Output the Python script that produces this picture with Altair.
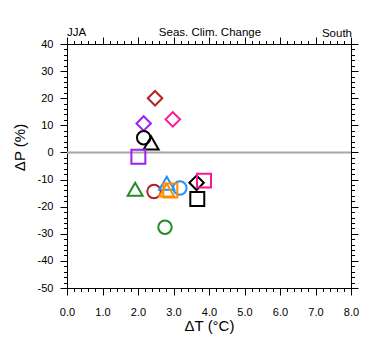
import altair as alt
import pandas as pd

# ---- data ----
dT = [2.48, 2.98, 2.16, 2.16, 2.37, 2.01, 1.92, 2.45, 2.81, 3.18, 2.81, 2.91, 3.65, 3.86, 3.67, 2.76]
dP = [20.0, 12.2, 10.7, 5.4, 3.5, -1.6, -13.6, -14.4, -11.4, -13.1, -13.9, -14.0, -11.2, -10.4, -17.2, -27.6]
shapes = ["diamond", "diamond", "diamond", "circle", "triangle-up", "square", "triangle-up", "circle",
          "triangle-up", "circle", "triangle-up", "square", "diamond", "square", "square", "circle"]
colors = ["#b22222", "#ff1493", "#a020f0", "#000000", "#000000", "#a020f0", "#228b22", "#b22222",
          "#1e90ff", "#1e90ff", "#ff8c00", "#ff8c00", "#000000", "#ff1493", "#000000", "#228b22"]

x_major = [0, 1, 2, 3, 4, 5, 6, 7, 8]
y_major = [-50, -40, -30, -20, -10, 0, 10, 20, 30, 40]
x_ticks = [round(i * 0.2, 1) for i in range(0, 41)]
y_ticks = list(range(-50, 41, 2))

title_left = "JJA"
title_center = "Seas. Clim. Change"
title_right = "South"

df = pd.DataFrame({"dT": dT, "dP": dP, "shape": shapes, "color": colors})
zero_df = pd.DataFrame({"v": [0]})

FONT = "Liberation Sans"
W, H = 284, 244

xscale = alt.Scale(domain=[0, 8], nice=False, zero=False)
yscale = alt.Scale(domain=[-50, 40], nice=False, zero=False)

x_major_test = "abs(datum.value - round(datum.value)) < 0.01"
y_major_test = "datum.value % 10 === 0"

common_axis = dict(
    grid=False,
    domainColor="black",
    domainWidth=1,
    tickColor="black",
    tickWidth=1,
    labelFont=FONT,
    labelFontSize=11,
    labelColor="black",
    titleFont=FONT,
    titleFontSize=15,
    titleFontWeight="normal",
    titleColor="black",
    labelOverlap=False,
    labelFlush=False,
)

x_bottom = alt.Axis(
    orient="bottom",
    values=x_ticks,
    tickSize={"condition": {"test": x_major_test, "value": 7}, "value": 3.5},
    labelExpr=f"{x_major_test} ? format(datum.value, '.1f') : ''",
    labelPadding=11,
    title="ΔT (°C)",
    titleBaseline="alphabetic",
    titleY=42,
    titleX=W / 2,
    **common_axis,
)
y_left = alt.Axis(
    orient="left",
    values=y_ticks,
    tickSize={"condition": {"test": y_major_test, "value": 7}, "value": 3.5},
    labelExpr=f"{y_major_test} ? '' + datum.value : ''",
    labelPadding=7,
    title="ΔP (%)",
    titleAngle=270,
    titleBaseline="alphabetic",
    titleAlign="center",
    titleX=-43,
    titleY=103,
    **common_axis,
)
x_top = alt.Axis(
    orient="top",
    values=x_ticks,
    tickSize={"condition": {"test": x_major_test, "value": 7}, "value": 3.5},
    labels=False,
    title=None,
    **common_axis,
)
y_right = alt.Axis(
    orient="right",
    values=y_ticks,
    tickSize={"condition": {"test": y_major_test, "value": 7}, "value": 3.5},
    labels=False,
    title=None,
    **common_axis,
)

zero_line = alt.Chart(zero_df).mark_rule(color="#a6a6a6", strokeWidth=2).encode(
    y=alt.Y("v:Q", scale=yscale, axis=y_right)
)

frame = alt.Chart(df).mark_point(opacity=0).encode(
    x=alt.X("dT:Q", scale=xscale, axis=x_top),
)

points = alt.Chart(df).mark_point(filled=False, strokeWidth=2, opacity=1).encode(
    x=alt.X("dT:Q", scale=xscale, axis=x_bottom),
    y=alt.Y("dP:Q", scale=yscale, axis=y_left),
    shape=alt.Shape("shape:N", scale=None),
    color=alt.Color("color:N", scale=None),
    size=alt.Size("shape:N",
                  scale=alt.Scale(domain=["circle", "square", "diamond", "triangle-up"],
                                  range=[180, 225, 215, 250]),
                  legend=None),
)

t_left = alt.Chart(pd.DataFrame({"t": [title_left]})).mark_text(
    font=FONT, fontSize=11.5, align="left", baseline="alphabetic", color="black"
).encode(text="t:N", x=alt.value(0), y=alt.value(-8))
t_center = alt.Chart(pd.DataFrame({"t": [title_center]})).mark_text(
    font=FONT, fontSize=11.5, align="center", baseline="alphabetic", color="black"
).encode(text="t:N", x=alt.value(W / 2 + 1), y=alt.value(-8.5))
t_right = alt.Chart(pd.DataFrame({"t": [title_right]})).mark_text(
    font=FONT, fontSize=11.5, align="right", baseline="alphabetic", color="black"
).encode(text="t:N", x=alt.value(W + 1), y=alt.value(-7.5))

chart = (
    alt.layer(frame, zero_line, points, t_left, t_center, t_right)
    .resolve_axis(x="independent", y="independent")
    .properties(
        width=W,
        height=H,
        autosize=alt.AutoSizeParams(type="none"),
        padding={"left": 59, "top": 36, "right": 20, "bottom": 58},
        background="white",
    )
    .configure_view(stroke=None)
)

chart.save("out.html", embed_options={"renderer": "svg", "actions": False})
